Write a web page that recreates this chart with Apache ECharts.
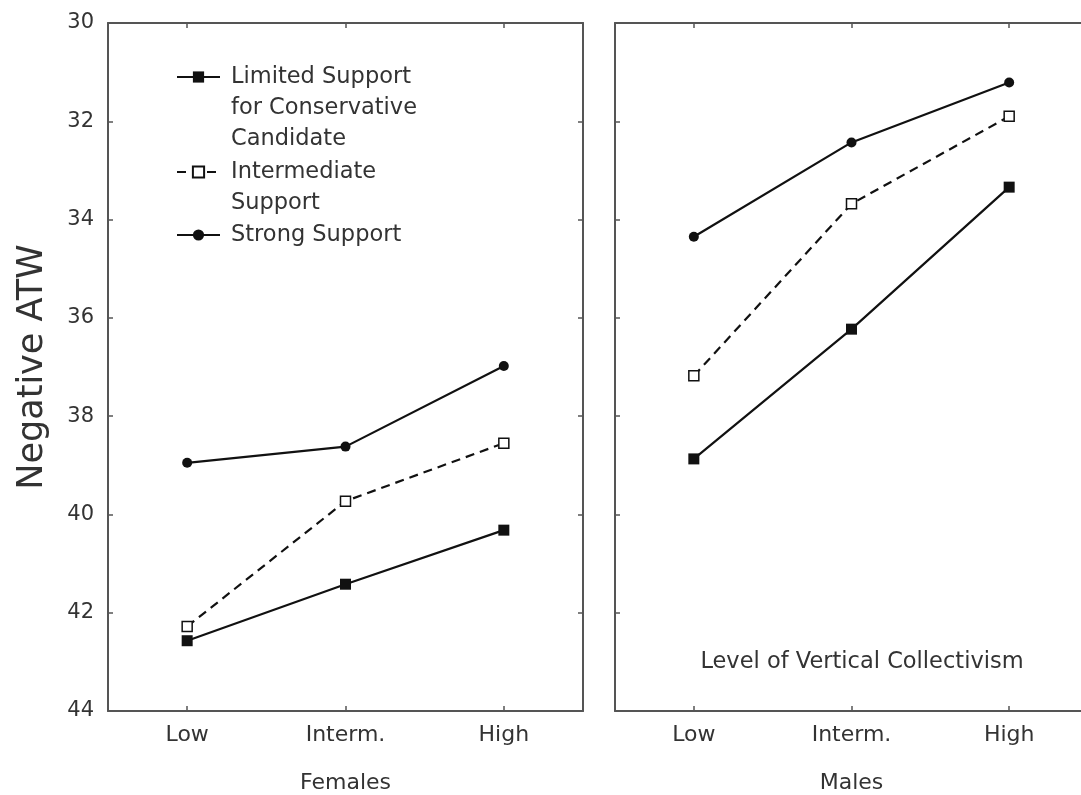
<!DOCTYPE html>
<html>
<head>
<meta charset="utf-8">
<title>Negative ATW by Vertical Collectivism</title>
<script src="https://cdn.jsdelivr.net/npm/echarts@6/dist/echarts.min.js"></script>
<style>
  html, body { margin: 0; padding: 0; background: #fff; }
  #chart { width: 1081px; height: 795px; }
</style>
</head>
<body>
<div id="chart"></div>
<script>
// Levels of vertical collectivism on the x axis
const levels = ['Low', 'Interm.', 'High'];
// Y axis (inverted): 30 at the top, 44 at the bottom
const yMin = 30;
const yMax = 44;
const yStep = 2;

const panelNames = ['Females', 'Males'];
const seriesNames = [
  'Limited Support for Conservative Candidate',
  'Intermediate Support',
  'Strong Support'
];
const legendLines = [
  ['Limited Support', 'for Conservative', 'Candidate'],
  ['Intermediate', 'Support'],
  ['Strong Support']
];

// Mean negative ATW per group
const femalesLimited      = [42.57, 41.42, 40.32];
const femalesIntermediate = [42.28, 39.73, 38.55];
const femalesStrong       = [38.95, 38.62, 36.98];
const malesLimited        = [38.87, 36.23, 33.34];
const malesIntermediate   = [37.18, 33.68, 31.90];
const malesStrong         = [34.35, 32.43, 31.21];

const INK = '#111';
const FRAME = '#555';
const TEXT = '#333';
const FONT = 'DejaVu Sans';

const frameLine = { show: true, onZero: false, lineStyle: { color: FRAME, width: 2 } };
const innerTick = { show: true, inside: true, length: 5, lineStyle: { color: FRAME, width: 1.5 } };

function xAxisPair(gridIndex, name) {
  return [
    {
      type: 'category', gridIndex, position: 'bottom', data: levels,
      boundaryGap: true,
      axisLine: frameLine,
      axisTick: Object.assign({ alignWithLabel: true }, innerTick),
      axisLabel: { color: TEXT, fontFamily: FONT, fontSize: 22, margin: 13 },
      name, nameLocation: 'middle', nameGap: 61,
      nameTextStyle: { color: TEXT, fontFamily: FONT, fontSize: 22 },
      splitLine: { show: false }
    },
    {
      type: 'category', gridIndex, position: 'top', data: levels,
      boundaryGap: true,
      axisLine: frameLine,
      axisTick: Object.assign({ alignWithLabel: true }, innerTick),
      axisLabel: { show: false },
      splitLine: { show: false }
    }
  ];
}

function yAxisPair(gridIndex, withLabels) {
  const base = {
    type: 'value', gridIndex, min: yMin, max: yMax, interval: yStep, inverse: true,
    axisLine: frameLine, axisTick: innerTick, splitLine: { show: false }
  };
  const left = Object.assign({}, base, {
    position: 'left',
    axisLabel: withLabels
      ? { color: TEXT, fontFamily: FONT, fontSize: 21, margin: 14 }
      : { show: false }
  });
  if (withLabels) {
    Object.assign(left, {
      name: 'Negative ATW', nameLocation: 'middle', nameGap: 58, nameRotate: 90,
      nameTextStyle: { color: TEXT, fontFamily: FONT, fontSize: 35 }
    });
  }
  const right = Object.assign({}, base, { position: 'right', axisLabel: { show: false } });
  return [left, right];
}

const styles = [
  { symbol: 'rect', symbolSize: 11, lineType: 'solid', fill: INK },
  { symbol: 'rect', symbolSize: 10, lineType: [9, 6], fill: '#fff' },
  { symbol: 'circle', symbolSize: 10, lineType: 'solid', fill: INK }
];

function makeSeries(k, values, grid) {
  const s = styles[k];
  return {
    type: 'line', name: seriesNames[k],
    xAxisIndex: grid * 2, yAxisIndex: grid * 2,
    data: values,
    symbol: s.symbol, symbolSize: s.symbolSize,
    showAllSymbol: true,
    lineStyle: { color: INK, width: 2.2, type: s.lineType },
    itemStyle: { color: s.fill, borderColor: INK, borderWidth: k === 1 ? 1.5 : 0 },
    emphasis: { disabled: true },
    z: 3
  };
}

// One legend per entry; leading blank lines keep each icon level with
// the first line of its label (the label block is centred on the icon).
const legendFirstLineY = [77, 172, 235];
const LINE_H = 31;
const legends = seriesNames.map((nm, k) => {
  const lines = legendLines[k];
  const n = lines.length;
  const padded = new Array(n - 1).fill(' ').concat(lines).join('\n');
  return {
    show: true, orient: 'vertical', left: 176,
    top: legendFirstLineY[k] - (2 * n - 1) * LINE_H / 2,
    padding: 0, itemWidth: 43, itemHeight: 14,
    selectedMode: false,
    data: [nm],
    formatter: () => padded,
    textStyle: {
      color: TEXT, fontFamily: FONT, fontSize: 22.5, lineHeight: LINE_H,
      padding: [0, 0, 0, 6]
    }
  };
});

const chart = echarts.init(document.getElementById('chart'), null, { renderer: 'canvas' });
chart.setOption({
  backgroundColor: '#fff',
  animation: false,
  grid: [
    { left: 108, top: 23, width: 475, height: 688, outerBoundsMode: 'none' },
    { left: 615, top: 23, width: 473, height: 688, outerBoundsMode: 'none' }
  ],
  xAxis: [].concat(xAxisPair(0, panelNames[0]), xAxisPair(1, panelNames[1])),
  yAxis: [].concat(yAxisPair(0, true), yAxisPair(1, false)),
  legend: legends,
  graphic: [{
    type: 'text', x: 862, y: 662,
    style: {
      text: 'Level of Vertical Collectivism',
      fill: TEXT, font: '22.5px "DejaVu Sans"',
      align: 'center', verticalAlign: 'middle'
    }
  }],
  series: [
    makeSeries(0, femalesLimited, 0),
    makeSeries(1, femalesIntermediate, 0),
    makeSeries(2, femalesStrong, 0),
    makeSeries(0, malesLimited, 1),
    makeSeries(1, malesIntermediate, 1),
    makeSeries(2, malesStrong, 1)
  ]
});
</script>
</body>
</html>
